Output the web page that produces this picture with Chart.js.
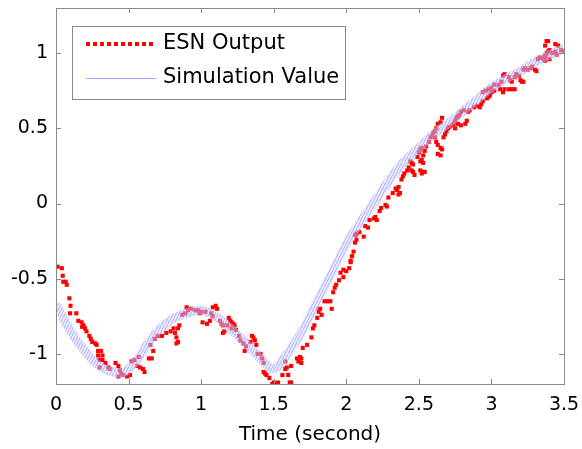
<!DOCTYPE html>
<html>
<head>
<meta charset="utf-8">
<script src="https://cdn.jsdelivr.net/npm/chart.js@4.4.1/dist/chart.umd.min.js"></script>
<style>
  html, body { margin: 0; padding: 0; background: #fff; }
</style>
</head>
<body>
<canvas id="chartCanvas" width="582" height="449"></canvas>
<script>
// x axis ticks (seconds) and y axis ticks
const xTicks = [0, 0.5, 1, 1.5, 2, 2.5, 3, 3.5];
const yTicks = [-1, -0.5, 0, 0.5, 1];

// Simulation value (blue band)
const simTime = [0, 0.05, 0.1, 0.15, 0.2, 0.25, 0.3, 0.35, 0.4, 0.45, 0.5, 0.55, 0.6, 0.65, 0.7, 0.8, 0.9, 1.0,
    1.1, 1.2, 1.3, 1.4, 1.5, 1.6, 1.7, 1.8, 1.9, 2.0, 2.1, 2.2, 2.3, 2.4, 2.5, 2.6, 2.7, 2.8, 2.9, 3.0,
    3.1, 3.2, 3.3, 3.4, 3.5];
const simValue = [-0.67, -0.76, -0.85, -0.92, -0.98, -1.04, -1.08, -1.11, -1.12, -1.13, -1.1, -1.05, -0.98, -0.91, -0.85, -0.77, -0.73, -0.71,
    -0.75, -0.83, -0.92, -1.02, -1.1, -0.99, -0.84, -0.65, -0.46, -0.27, -0.12, 0.02, 0.16, 0.28, 0.37, 0.46, 0.53, 0.61, 0.69, 0.77,
    0.83, 0.88, 0.94, 0.99, 1.03];

// ESN output (red dots)
const esnTime = [0.01, 0.04, 0.046, 0.05, 0.067, 0.074, 0.092, 0.1, 0.096, 0.14, 0.154, 0.177, 0.19, 0.2, 0.18, 0.21, 0.23, 0.24, 0.25, 0.27,
    0.28, 0.29, 0.31, 0.29, 0.32, 0.3, 0.32, 0.3, 0.34, 0.36, 0.37, 0.41, 0.43, 0.44, 0.45, 0.43, 0.46, 0.49, 0.51, 0.52,
    0.54, 0.56, 0.57, 0.58, 0.6, 0.61, 0.64, 0.66, 0.65, 0.67, 0.68, 0.7, 0.73, 0.76, 0.79, 0.81, 0.82, 0.83, 0.84, 0.85,
    0.83, 0.84, 0.87, 0.89, 0.9, 0.91, 0.93, 0.96, 0.98, 1.0, 1.03, 0.99, 1.01, 1.04, 1.06, 1.07, 1.08, 1.1, 1.11, 1.08,
    1.13, 1.14, 1.15, 1.16, 1.15, 1.18, 1.19, 1.2, 1.21, 1.22, 1.23, 1.21, 1.24, 1.26, 1.27, 1.29, 1.3, 1.31, 1.34, 1.35,
    1.36, 1.37, 1.38, 1.39, 1.41, 1.42, 1.43, 1.43, 1.44, 1.45, 1.47, 1.5, 1.52, 1.53, 1.49, 1.56, 1.58, 1.58, 1.59, 1.6,
    1.61, 1.62, 1.62, 1.66, 1.67, 1.68, 1.69, 1.69, 1.7, 1.73, 1.76, 1.77, 1.78, 1.8, 1.81, 1.82, 1.83, 1.85, 1.87, 1.89,
    1.9, 1.81, 1.91, 1.92, 1.93, 1.95, 1.96, 1.98, 1.98, 2.0, 2.02, 2.03, 2.03, 2.04, 2.05, 2.06, 2.07, 2.06, 2.07, 2.09,
    2.12, 2.13, 2.15, 2.16, 2.19, 2.2, 2.21, 2.23, 2.24, 2.27, 2.28, 2.29, 2.32, 2.35, 2.36, 2.34, 2.36, 2.37, 2.38, 2.39,
    2.4, 2.42, 2.43, 2.44, 2.45, 2.46, 2.45, 2.46, 2.47, 2.49, 2.5, 2.51, 2.52, 2.53, 2.54, 2.51, 2.52, 2.53, 2.51, 2.52,
    2.53, 2.54, 2.55, 2.57, 2.58, 2.59, 2.6, 2.61, 2.62, 2.63, 2.65, 2.66, 2.61, 2.62, 2.63, 2.65, 2.63, 2.65, 2.66, 2.67,
    2.68, 2.69, 2.7, 2.71, 2.73, 2.74, 2.75, 2.76, 2.77, 2.78, 2.79, 2.81, 2.75, 2.77, 2.79, 2.82, 2.83, 2.84, 2.85, 2.88,
    2.9, 2.92, 2.93, 2.94, 2.97, 2.98, 2.99, 3.0, 3.02, 2.94, 2.96, 2.98, 3.0, 3.02, 3.05, 3.06, 3.09, 3.08, 3.12, 3.14,
    3.16, 3.07, 3.08, 3.09, 3.12, 3.13, 3.14, 3.16, 3.17, 3.19, 3.2, 3.21, 3.22, 3.22, 3.23, 3.25, 3.27, 3.28, 3.3, 3.31,
    3.32, 3.33, 3.35, 3.36, 3.37, 3.38, 3.39, 3.4, 3.37, 3.38, 3.39, 3.37, 3.4, 3.42, 3.44, 3.45, 3.44, 3.46, 3.48, 3.5];
const esnValue = [-0.42, -0.43, -0.48, -0.52, -0.52, -0.54, -0.63, -0.68, -0.73, -0.73, -0.78, -0.79, -0.81, -0.83, -0.82, -0.85, -0.88, -0.9, -0.92, -0.93,
    -0.94, -0.98, -0.98, -1.01, -1.01, -1.04, -1.04, -1.09, -1.06, -1.09, -1.1, -1.06, -1.08, -1.11, -1.13, -1.15, -1.14, -1.15, -1.14, -1.05,
    -1.04, -1.08, -1.02, -1.09, -1.1, -1.12, -1.03, -1.03, -0.94, -0.98, -0.9, -0.88, -0.88, -0.86, -0.85, -0.83, -0.86, -0.89, -0.83, -0.81,
    -0.93, -0.92, -0.74, -0.73, -0.69, -0.71, -0.7, -0.71, -0.71, -0.72, -0.72, -0.73, -0.79, -0.8, -0.78, -0.73, -0.69, -0.68, -0.7, -0.75,
    -0.78, -0.8, -0.81, -0.85, -0.86, -0.81, -0.76, -0.78, -0.79, -0.8, -0.81, -0.83, -0.84, -0.88, -0.91, -0.93, -0.98, -0.95, -0.92, -0.88,
    -0.89, -0.91, -0.94, -1.0, -1.0, -1.03, -1.06, -1.12, -1.13, -1.14, -1.16, -1.19, -1.2, -1.19, -1.2, -1.14, -1.05, -1.1, -1.09, -1.14,
    -1.19, -1.19, -1.08, -1.03, -1.05, -1.02, -1.03, -1.06, -0.96, -0.94, -0.89, -0.83, -0.81, -0.76, -0.72, -0.7, -0.74, -0.65, -0.65, -0.65,
    -0.7, -0.7, -0.59, -0.56, -0.54, -0.51, -0.46, -0.49, -0.44, -0.45, -0.43, -0.39, -0.38, -0.35, -0.32, -0.26, -0.24, -0.21, -0.2, -0.19,
    -0.22, -0.15, -0.16, -0.11, -0.1, -0.09, -0.11, -0.05, -0.03, -0.01, -0.02, 0.04, 0.07, 0.09, 0.11, 0.1, 0.06, 0.07, 0.16, 0.18,
    0.2, 0.22, 0.24, 0.28, 0.27, 0.26, 0.22, 0.21, 0.19, 0.31, 0.34, 0.36, 0.37, 0.32, 0.35, 0.28, 0.29, 0.27, 0.22, 0.2,
    0.21, 0.21, 0.38, 0.41, 0.44, 0.45, 0.47, 0.48, 0.5, 0.53, 0.54, 0.57, 0.44, 0.41, 0.39, 0.37, 0.33, 0.32, 0.36, 0.44,
    0.46, 0.48, 0.5, 0.51, 0.52, 0.53, 0.55, 0.57, 0.58, 0.59, 0.61, 0.62, 0.5, 0.53, 0.52, 0.53, 0.55, 0.61, 0.62, 0.64,
    0.65, 0.64, 0.66, 0.68, 0.7, 0.71, 0.72, 0.74, 0.75, 0.74, 0.75, 0.76, 0.77, 0.79, 0.79, 0.76, 0.76, 0.74, 0.76, 0.76,
    0.76, 0.81, 0.85, 0.86, 0.84, 0.82, 0.81, 0.84, 0.86, 0.85, 0.82, 0.81, 0.81, 0.89, 0.9, 0.89, 0.9, 0.91, 0.89, 0.88,
    0.96, 0.97, 0.97, 0.96, 0.98, 1.0, 1.01, 1.02, 1.05, 1.08, 1.08, 0.95, 0.96, 1.0, 1.01, 0.99, 1.06, 1.05, 1.02, 1.01];

const seriesNames = ['Simulation Value', 'ESN Output'];
const fontFamily = '"DejaVu Sans", sans-serif';
const axisGray = '#8a8a8a';

//Hatched stroke that looks like the dense zigzag of the original blue line
function makeHatch() {
    const pc = document.createElement('canvas');
    pc.width = 3;
    pc.height = 6;
    const g = pc.getContext('2d');
    g.fillStyle = 'rgba(210, 210, 255, 0.45)';
    g.fillRect(0, 0, 3, 6);
    g.strokeStyle = 'rgba(140, 140, 255, 0.65)';
    g.lineWidth = 1;
    g.beginPath();
    g.moveTo(0, 6);
    g.lineTo(3, 0);
    g.stroke();
    return g.createPattern(pc, 'repeat');
}

//Box round the plot with the ticks pointing inwards, like matlab
const boxTicks = {
    id: 'boxTicks',
    afterDraw(chart) {
        const { ctx, chartArea: a, scales } = chart;
        ctx.save();
        ctx.strokeStyle = axisGray;
        ctx.lineWidth = 1;
        ctx.strokeRect(a.left + 0.5, a.top + 0.5, a.right - a.left, a.bottom - a.top);
        ctx.beginPath();
        xTicks.forEach(v => {
            const px = Math.round(scales.x.getPixelForValue(v)) + 0.5;
            ctx.moveTo(px, a.bottom); ctx.lineTo(px, a.bottom - 5);
            ctx.moveTo(px, a.top); ctx.lineTo(px, a.top + 5);
        });
        yTicks.forEach(v => {
            const py = Math.round(scales.y.getPixelForValue(v)) + 0.5;
            ctx.moveTo(a.left, py); ctx.lineTo(a.left + 5, py);
            ctx.moveTo(a.right, py); ctx.lineTo(a.right - 5, py);
        });
        ctx.stroke();
        ctx.restore();
    }
};

//Legend box in the upper left corner
const boxLegend = {
    id: 'boxLegend',
    afterDatasetsDraw(chart) {
        const ctx = chart.ctx;
        const a = chart.chartArea;
        const x0 = a.left + 16, y0 = a.top + 18;
        ctx.save();
        ctx.fillStyle = '#fff';
        ctx.fillRect(x0 + 0.5, y0 + 0.5, 273, 73);
        ctx.strokeStyle = axisGray;
        ctx.lineWidth = 1;
        ctx.strokeRect(x0 + 0.5, y0 + 0.5, 273, 73);

        // red dotted line
        ctx.strokeStyle = '#ff0000';
        ctx.lineWidth = 4;
        ctx.setLineDash([4, 3]);
        ctx.beginPath();
        ctx.moveTo(x0 + 14, y0 + 18);
        ctx.lineTo(x0 + 82, y0 + 18);
        ctx.stroke();

        // blue line
        ctx.setLineDash([]);
        ctx.strokeStyle = '#a4a4ff';
        ctx.lineWidth = 1;
        ctx.beginPath();
        ctx.moveTo(x0 + 14, y0 + 52.5);
        ctx.lineTo(x0 + 84, y0 + 52.5);
        ctx.stroke();

        ctx.fillStyle = '#000';
        ctx.font = '21px ' + fontFamily;
        ctx.textBaseline = 'middle';
        ctx.fillText(chart.data.datasets[1].label, x0 + 91, y0 + 18);
        ctx.fillText(chart.data.datasets[0].label, x0 + 91, y0 + 52);
        ctx.restore();
    }
};

const ctx = document.getElementById('chartCanvas');

window.myChart = new Chart(ctx, {
    type: 'scatter',
    data: {
        datasets: [{
            label: seriesNames[0],
            data: simTime.map((t, i) => ({ x: t, y: simValue[i] })),
            showLine: true,
            borderColor: makeHatch(),
            borderWidth: 9,
            tension: 0.3,
            pointRadius: 0,
            fill: false
        }, {
            label: seriesNames[1],
            data: esnTime.map((t, i) => ({ x: t, y: esnValue[i] })),
            showLine: false,
            pointStyle: 'rect',
            pointRadius: 2.9,
            borderWidth: 0,
            backgroundColor: '#ff0000'
        }]
    },
    options: {
        responsive: false,
        animation: false,
        layout: {
            padding: { top: 8, right: 18, left: 0, bottom: 0 }
        },
        plugins: {
            legend: { display: false },
            tooltip: { enabled: false }
        },
        scales: {
            x: {
                type: 'linear',
                min: 0,
                max: 3.5,
                afterFit: scale => {
                    scale.height = 65;
                    scale.paddingLeft = 0;
                    scale.paddingRight = 0;
                },
                afterBuildTicks: scale => { scale.ticks = xTicks.map(v => ({ value: v })); },
                grid: { display: false, drawTicks: false },
                border: { display: false },
                ticks: {
                    padding: 10,
                    color: '#000',
                    font: { family: fontFamily, size: 19 },
                    callback: v => String(v)
                },
                title: {
                    display: true,
                    text: 'Time (second)',
                    color: '#000',
                    font: { family: fontFamily, size: 20 },
                    padding: { top: 0, bottom: 2 }
                }
            },
            y: {
                type: 'linear',
                min: -1.2,
                max: 1.3,
                afterFit: scale => {
                    scale.width = 56;
                    scale.paddingTop = 0;
                    scale.paddingBottom = 0;
                },
                afterBuildTicks: scale => { scale.ticks = yTicks.map(v => ({ value: v })); },
                grid: { display: false, drawTicks: false },
                border: { display: false },
                ticks: {
                    padding: 8,
                    color: '#000',
                    font: { family: fontFamily, size: 19 },
                    callback: v => String(v)
                }
            }
        }
    },
    plugins: [boxLegend, boxTicks]
});
</script>
</body>
</html>
